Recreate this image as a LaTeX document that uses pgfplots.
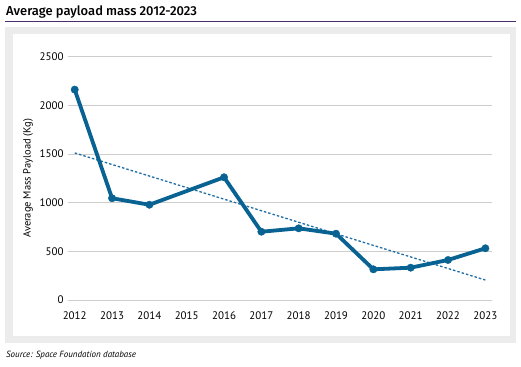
\documentclass[border=0pt]{standalone}
\usepackage{pgfplots}
\pgfplotsset{compat=1.18}
\usepackage{fontspec}
\setmainfont{PT Sans}
\newfontfamily\titlefont{Fira Sans Medium}
\definecolor{linecol}{RGB}{8,98,146}
\definecolor{trendcol}{RGB}{30,110,165}
\definecolor{purp}{RGB}{75,45,110}
\definecolor{panel}{RGB}{236,236,236}
\definecolor{gridc}{RGB}{205,205,205}
\begin{document}
\begin{tikzpicture}[x=1bp,y=1bp]
\useasboundingbox (0,0) rectangle (521,-366);
\node[anchor=west,inner sep=0pt] at (6,-12) {\titlefont\fontsize{13}{15}\selectfont Average payload mass 2012-2023};
\draw[purp,line width=1.3bp] (5,-21.5) -- (516,-21.5);
\fill[panel] (5,-27) rectangle (516,-343);
\fill[white] (13,-34) rectangle (510,-336);
\node[anchor=west,inner sep=0pt] at (6,-355) {\fontsize{9}{10}\selectfont\itshape Source: Space Foundation database};
\begin{axis}[
  at={(68bp,-300bp)}, anchor=origin,
  scale only axis, width=423.7bp, height=243.5bp,
  xmin=2011.82, xmax=2023.17, ymin=0, ymax=2500,
  xtick={2012,...,2023}, ytick={0,500,...,2500},
  /pgf/number format/1000 sep={},
  /pgf/number format/assume math mode=true,
  ticklabel style={font=\fontsize{11}{13}\selectfont},
  axis line style={draw=none}, major tick length=0pt,
  ymajorgrids, grid style={gridc,line width=0.8bp},
  yticklabel style={xshift=-1bp},
  xticklabel style={yshift=-8bp},
  ylabel={Average Mass Payload (Kg)},
  ylabel style={font=\fontsize{10.5}{12}\selectfont, at={(axis description cs:-0.094,0.5)}, anchor=center},
  clip=false,
]
\addplot[trendcol, line width=1.3bp, dash pattern=on 2.5bp off 2bp] coordinates {(2012,1510) (2023,205)};
\addplot[linecol, line width=3.8bp, mark=*, mark size=3.7bp, mark options={solid,fill=linecol,draw=linecol,line width=0.4bp}, line join=round] coordinates {
(2012,2160) (2013,1045) (2014,978) (2016,1260) (2017,701) (2018,736) (2019,681) (2020,315) (2021,332) (2022,411) (2023,531)};
\end{axis}
\end{tikzpicture}
\end{document}
